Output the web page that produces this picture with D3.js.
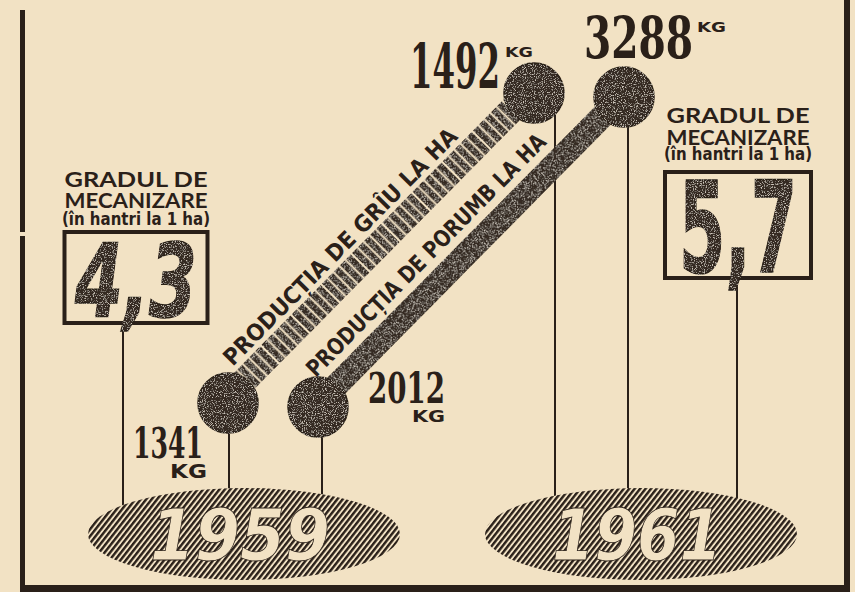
<!DOCTYPE html>
<html>
<head>
<meta charset="utf-8">
<script src="https://cdn.jsdelivr.net/npm/d3@7/dist/d3.min.js"></script>
<style>
  html, body { margin: 0; padding: 0; background: #f2e2c4; }
  svg { display: block; }
</style>
</head>
<body>
<script>
// ---------- DATA ----------
const years = ["1959", "1961"];
const wheatYield = [1341, 1492];          // kg / ha
const cornYield = [2012, 3288];           // kg / ha
const mechanization = [4.3, 5.7];         // hantri la 1 ha
const seriesKeys = ["grau", "porumb"];
const seriesLabels = ["PRODUCȚIA DE GRÎU LA HA", "PRODUCȚIA DE PORUMB LA HA"];
const mechTitle = ["GRADUL DE", "MECANIZARE", "(în hantri la 1 ha)"];
const unitLabel = "KG";

// ---------- SETUP ----------
const W = 855, H = 592;
const BG = "#f2e2c4", INK = "#2a2019", DARK = "#342a22";
const roFormat = d3.formatLocale({ decimal: ",", thousands: "", grouping: [3], currency: ["", ""] });
const fmtDec = roFormat.format(".1f");
const fmtInt = roFormat.format("d");

const svg = d3.select("body").append("svg").attr("width", W).attr("height", H);
const defs = svg.append("defs");

// hatch pattern for the year ellipses
const hatch = defs.append("pattern").attr("id", "hatch")
  .attr("patternUnits", "userSpaceOnUse").attr("width", 4.3).attr("height", 10)
  .attr("patternTransform", "rotate(38)");
hatch.append("rect").attr("width", 4.3).attr("height", 10).attr("fill", BG);
hatch.append("rect").attr("x", 0).attr("width", 2.4).attr("height", 10).attr("fill", INK);

// grain filter for dark shapes
const grain = defs.append("filter").attr("id", "grain")
  .attr("x", "-5%").attr("y", "-5%").attr("width", "110%").attr("height", "110%");
grain.append("feTurbulence").attr("type", "fractalNoise").attr("baseFrequency", 0.9)
  .attr("numOctaves", 2).attr("seed", 7).attr("result", "noise");
grain.append("feColorMatrix").attr("in", "noise").attr("type", "matrix")
  .attr("values", "0 0 0 0 0.62  0 0 0 0 0.57  0 0 0 0 0.50  0 0 0 4.2 -2.25")
  .attr("result", "spk");
grain.append("feComposite").attr("in", "spk").attr("in2", "SourceAlpha").attr("operator", "in").attr("result", "spkIn");
const fm = grain.append("feMerge");
fm.append("feMergeNode").attr("in", "SourceGraphic");
fm.append("feMergeNode").attr("in", "spkIn");

// background
svg.append("rect").attr("width", W).attr("height", H).attr("fill", BG);

// ---------- SCALES ----------
const xCirc = d3.scalePoint().domain(years).range([228, 534]);
const yCirc = d3.scalePoint().domain(years).range([403, 93]);
const dxSeries = d3.scalePoint().domain(seriesKeys).range([0, 90]);
const dySeries = d3.scalePoint().domain(seriesKeys).range([0, 4]);
const xEll = d3.scalePoint().domain(years).range([244, 641]);
const xBox = d3.scalePoint().domain(years).range([136, 738]);
const yBoxTop = d3.scaleLinear().domain(d3.extent(mechanization)).range([232, 172]);
const hBox = d3.scaleLinear().domain(d3.extent(mechanization)).range([91, 106]);
const wBox = d3.scaleLinear().domain(d3.extent(mechanization)).range([143, 146]);

const ELL = { cy: 534, rx: 156, ry: 46 };
const ellTop = (x, yr) => {
  const t = (x - xEll(yr)) / ELL.rx;
  return ELL.cy - ELL.ry * Math.sqrt(Math.max(0, 1 - t * t));
};

// ---------- FRAME ----------
const frame = svg.append("g").attr("fill", INK);
frame.append("rect").attr("x", 20).attr("y", 10).attr("width", 5).attr("height", 222);
frame.append("rect").attr("x", 20).attr("y", 236).attr("width", 5).attr("height", 356);
frame.append("rect").attr("x", 844).attr("y", 0).attr("width", 6).attr("height", 592);
frame.append("rect").attr("x", 20).attr("y", 585).attr("width", 830).attr("height", 7);

// ---------- SERIES ----------
const series = seriesKeys.map((k, si) => ({
  key: k,
  label: seriesLabels[si],
  values: si === 0 ? wheatYield : cornYield
}));
series.forEach(s => {
  s.points = years.map((yr, i) => ({
    year: yr, value: s.values[i],
    x: xCirc(yr) + dxSeries(s.key),
    y: yCirc(yr) + dySeries(s.key)
  }));
});

// vertical connector lines
const lineOffsets = { grau: [1, 21], porumb: [4, 4] };
const connectors = [];
series.forEach(s => s.points.forEach((p, i) => {
  const x = p.x + lineOffsets[s.key][i];
  const dx = x - p.x;
  const y0 = p.y + Math.sqrt(Math.max(0, 30 * 30 - dx * dx)) - 2;
  connectors.push({ x, y0, y1: ellTop(x, p.year) + 3 });
}));
const boxLineOff = [-13, -1];
years.forEach((yr, i) => {
  const x = xBox(yr) + boxLineOff[i];
  connectors.push({ x, y0: yBoxTop(mechanization[i]) + hBox(mechanization[i]), y1: ellTop(x, yr) + 3 });
});
svg.append("g").selectAll("line").data(connectors).join("line")
  .attr("x1", d => d.x).attr("x2", d => d.x)
  .attr("y1", d => d.y0).attr("y2", d => d.y1)
  .attr("stroke", INK).attr("stroke-width", 2);

// year ellipses
const ellG = svg.append("g");
ellG.selectAll("ellipse").data(years).join("ellipse")
  .attr("cx", d => xEll(d)).attr("cy", ELL.cy)
  .attr("rx", ELL.rx).attr("ry", ELL.ry)
  .attr("fill", "url(#hatch)");
const yearLen = [180, 170];
ellG.selectAll("text").data(years).join("text")
  .attr("x", d => xEll(d) - 4).attr("y", 560)
  .attr("text-anchor", "middle")
  .attr("font-family", "'DejaVu Sans', sans-serif")
  .attr("font-weight", "bold").attr("font-style", "oblique")
  .attr("font-size", 72)
  .attr("textLength", (d, i) => yearLen[i]).attr("lengthAdjust", "spacingAndGlyphs")
  .attr("fill", BG).attr("stroke", INK).attr("stroke-width", 0.8)
  .text(d => d);

// bars (sticks)
const barLayout = {
  grau: { hw: 13, off: 4, textCenter: 190, textBase: -22, textLen: 322 },
  porumb: { hw: 12, off: 2, textCenter: 184, textBase: -22, textLen: 330 }
};
series.forEach(s => {
  const [p0, p1] = s.points;
  const L = Math.hypot(p1.x - p0.x, p1.y - p0.y);
  const ang = Math.atan2(p1.y - p0.y, p1.x - p0.x) * 180 / Math.PI;
  const lay = barLayout[s.key];
  const g = svg.append("g").attr("transform", `translate(${p0.x},${p0.y}) rotate(${ang})`);
  const bar = g.append("g").attr("filter", "url(#grain)");
  if (s.key === "grau") {
    bar.selectAll("rect").data(d3.range(22, L - 24, 8.6)).join("rect")
      .attr("x", d => d).attr("width", 6.6)
      .attr("y", -lay.off - lay.hw).attr("height", lay.hw * 2)
      .attr("fill", DARK);
  } else {
    bar.append("rect").attr("x", 0).attr("width", L)
      .attr("y", -lay.off - lay.hw).attr("height", lay.hw * 2)
      .attr("fill", DARK);
  }
  g.append("text")
    .attr("x", lay.textCenter).attr("y", lay.textBase)
    .attr("text-anchor", "middle")
    .attr("font-family", "'DejaVu Sans', sans-serif").attr("font-weight", "bold")
    .attr("font-size", 23)
    .attr("textLength", lay.textLen).attr("lengthAdjust", "spacingAndGlyphs")
    .attr("fill", INK)
    .text(s.label);
});

// circles
const allPoints = series.flatMap(s => s.points.map(p => ({ ...p, key: s.key })));
svg.append("g").attr("filter", "url(#grain)")
  .selectAll("circle").data(allPoints).join("circle")
  .attr("cx", d => d.x).attr("cy", d => d.y).attr("r", 30)
  .attr("fill", DARK).attr("stroke", INK).attr("stroke-width", 1.5);

// value labels
const labelLayout = {
  "grau-1959":   { dx: -25, dy: 55,  anchor: "end",   size: 42, len: 70,  kdx: -21, kdy: 75,  kanchor: "end",   ksize: 19, klen: 37 },
  "porumb-1959": { dx: 50,  dy: -4,  anchor: "start", size: 43, len: 77,  kdx: 127, kdy: 15,  kanchor: "end",   ksize: 16, klen: 33 },
  "grau-1961":   { dx: -34, dy: -5,  anchor: "end",   size: 62, len: 90,  kdx: -29, kdy: -36, kanchor: "start", ksize: 14, klen: 28 },
  "porumb-1961": { dx: 69,  dy: -39, anchor: "end",   size: 57, len: 109, kdx: 73,  kdy: -65, kanchor: "start", ksize: 14, klen: 29 }
};
const lab = svg.append("g").attr("fill", INK);
allPoints.forEach(p => {
  const L = labelLayout[p.key + "-" + p.year];
  lab.append("text")
    .attr("x", p.x + L.dx).attr("y", p.y + L.dy)
    .attr("text-anchor", L.anchor)
    .attr("font-family", "'DejaVu Serif Condensed', 'DejaVu Serif', serif")
    .attr("font-weight", "bold").attr("font-size", L.size)
    .attr("textLength", L.len).attr("lengthAdjust", "spacingAndGlyphs")
    .text(fmtInt(p.value));
  lab.append("text")
    .attr("x", p.x + L.kdx).attr("y", p.y + L.kdy)
    .attr("text-anchor", L.kanchor)
    .attr("font-family", "'DejaVu Sans', sans-serif")
    .attr("font-weight", "bold").attr("font-size", L.ksize)
    .attr("textLength", L.klen).attr("lengthAdjust", "spacingAndGlyphs")
    .text(unitLabel);
});

// mechanization boxes
const mechNum = [
  { size: 102, len: 122, dy: 85, style: "oblique", family: "'DejaVu Sans', sans-serif" },
  { size: 126, len: 118, dy: 100, style: "normal", family: "'DejaVu Sans Condensed', 'DejaVu Sans', sans-serif" }
];
const titleOffsets = [[-45, -24, -7], [-49, -27, -12]];
years.forEach((yr, i) => {
  const v = mechanization[i];
  const top = yBoxTop(v), h = hBox(v), w = wBox(v), cx = xBox(yr);
  const g = svg.append("g");
  mechTitle.forEach((t, j) => {
    g.append("text")
      .attr("x", cx).attr("y", top + titleOffsets[i][j])
      .attr("text-anchor", "middle")
      .attr("font-family", j < 2 ? "Lato, 'DejaVu Sans', sans-serif" : "'DejaVu Sans Condensed', 'DejaVu Sans', sans-serif")
      .attr("font-weight", "bold")
      .attr("font-size", j < 2 ? 21 : 18)
      .attr("textLength", j < 2 ? 143 : 148).attr("lengthAdjust", "spacingAndGlyphs")
      .attr("fill", INK)
      .text(t);
  });
  g.append("rect")
    .attr("x", cx - w / 2).attr("y", top).attr("width", w).attr("height", h)
    .attr("fill", BG).attr("stroke", INK).attr("stroke-width", 4);
  g.append("text")
    .attr("x", cx).attr("y", top + mechNum[i].dy)
    .attr("text-anchor", "middle")
    .attr("font-family", mechNum[i].family)
    .attr("font-weight", "bold").attr("font-style", mechNum[i].style)
    .attr("font-size", mechNum[i].size)
    .attr("textLength", mechNum[i].len).attr("lengthAdjust", "spacingAndGlyphs")
    .attr("fill", DARK).attr("stroke", INK).attr("stroke-width", 1.5)
    .attr("filter", "url(#grain)")
    .text(fmtDec(v));
});
</script>
</body>
</html>
